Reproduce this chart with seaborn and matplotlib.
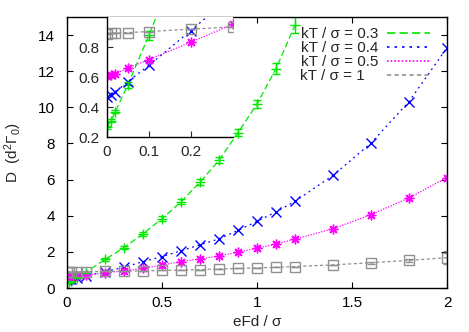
import numpy as np
import matplotlib
matplotlib.use("Agg")
import matplotlib.pyplot as plt
from matplotlib.lines import Line2D
import seaborn as sns

# drive field values
x_all = [0, 0.01, 0.02, 0.05, 0.1, 0.2, 0.3, 0.4, 0.5, 0.6, 0.7, 0.8, 0.9,
         1.0, 1.1, 1.2, 1.4, 1.6, 1.8, 2.0]
x_green = x_all[:16]

# D for kT/sigma = 0.3, 0.4, 0.5, 1
d_03 = [0.265, 0.31, 0.37, 0.55, 0.88, 1.58, 2.24, 3.0, 3.84, 4.77, 5.86, 7.07,
        8.6, 10.19, 12.14, 14.55]
err_03 = [0.01, 0.01, 0.01, 0.02, 0.03, 0.06, 0.08, 0.1, 0.12, 0.14, 0.16, 0.17,
          0.19, 0.24, 0.32, 0.45]
d_04 = [0.465, 0.48, 0.50, 0.57, 0.678, 0.91, 1.15, 1.46, 1.74, 2.06, 2.39, 2.72,
        3.19, 3.69, 4.21, 4.80, 6.23, 8.02, 10.32, 13.3]
d_05 = [0.609, 0.615, 0.62, 0.66, 0.716, 0.833, 0.952, 1.09, 1.28, 1.46, 1.61, 1.78,
        1.98, 2.21, 2.43, 2.71, 3.28, 4.06, 4.99, 6.11]
d_1 = [0.89, 0.891, 0.893, 0.896, 0.903, 0.919, 0.934, 0.95, 0.97, 0.99, 1.02, 1.05,
       1.08, 1.11, 1.15, 1.19, 1.28, 1.40, 1.53, 1.68]
err_1 = [0] * 17 + [0.05, 0.1, 0.35]

labels = ['kT / σ = 0.3', 'kT / σ = 0.4', 'kT / σ = 0.5', 'kT / σ = 1   ']
colors = ['#00e800', '#0000ff', '#ff00ff', '#909090']
styles = [(0, (5, 2.5)), (0, (1.5, 3)), (0, (1, 1.2)), (0, (2.5, 2))]
marks = ['+', 'x', (8, 2, 0), 's']

sns.set_style('ticks')
plt.rcParams['font.family'] = ['Liberation Sans', 'DejaVu Sans']
plt.rcParams['mathtext.default'] = 'regular'
plt.rcParams['font.size'] = 11


def draw_series(ax):
    series = [(x_green, d_03), (x_all, d_04), (x_all, d_05), (x_all, d_1)]
    for (xs, ys), c, ls, m in zip(series, colors, styles, marks):
        sns.lineplot(x=xs, y=ys, ax=ax, color=c, linestyle=ls, linewidth=0.9,
                     marker=m, markersize=7, mec=c, mew=1.0,
                     mfc='none', legend=False)
    ax.errorbar(x_green, d_03, yerr=err_03, fmt='none', ecolor=colors[0],
                elinewidth=1.0, capsize=3, capthick=1.0)
    ax.errorbar(x_all, d_1, yerr=err_1, fmt='none', ecolor=colors[3],
                elinewidth=1.0, capsize=3, capthick=1.0)


fig = plt.figure(figsize=(4.69, 3.32), dpi=100)
ax = fig.add_axes([0.1429, 0.1325, 0.8102, 0.8163])
draw_series(ax)
ax.set_xlim(0, 2)
ax.set_ylim(0, 15)
ax.set_xticks([0, 0.5, 1, 1.5, 2])
ax.set_xticklabels(['0', '0.5', '1', '1.5', '2'])
ax.set_yticks(range(0, 15, 2))
ax.tick_params(direction='in', top=True, right=True, length=4.5, width=0.8,
               labelsize=11, colors='black')
ax.tick_params(axis='x', pad=6)
ax.tick_params(axis='y', pad=8.5)
for s in ax.spines.values():
    s.set_linewidth(1.0)
    s.set_color('black')
ax.set_xlabel('eFd / σ', fontsize=11)
ax.set_ylabel(r'D  (d$^2\Gamma_0$)', fontsize=11)
ax.xaxis.set_label_coords(0.5, -0.1)
ax.yaxis.set_label_coords(-0.112, 0.5)

handles = [Line2D([], [], color=c, linestyle=ls, linewidth=1.2)
           for c, ls in zip(colors, styles)]
ax.legend(handles, labels, markerfirst=False, frameon=False, loc='upper right',
          bbox_to_anchor=(0.985, 1.005), handlelength=2.8, labelspacing=0.0,
          handletextpad=0.6, borderpad=0.25, fontsize=11)

# inset zoom near zero field
ins = fig.add_axes([0.2281, 0.5873, 0.2687, 0.3615])
draw_series(ins)
ins.set_xlim(0, 0.3)
ins.set_ylim(0.2, 1.0)
ins.set_xticks([0, 0.1, 0.2])
ins.set_xticklabels(['0', '0.1', '0.2'])
ins.set_yticks([0.2, 0.4, 0.6, 0.8])
ins.set_yticklabels(['0.2', '0.4', '0.6', '0.8'])
ins.tick_params(direction='in', length=4.5, width=0.8, labelsize=11, pad=5.5)
ins.spines['top'].set_visible(False)
ins.spines['right'].set_visible(False)
for s in ['left', 'bottom']:
    ins.spines[s].set_linewidth(1.0)
    ins.spines[s].set_color('black')
ins.set_xlabel('')
ins.set_ylabel('')
ins.set_facecolor('white')

fig.savefig('out.png', dpi=100)
